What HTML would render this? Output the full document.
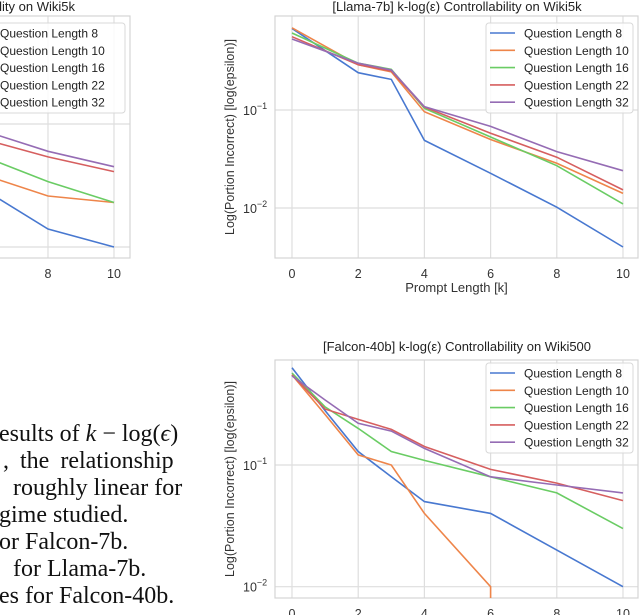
<!DOCTYPE html>
<html><head><meta charset="utf-8">
<style>
html,body{margin:0;padding:0;background:#fff;}
body{width:640px;height:615px;overflow:hidden;position:relative;font-family:"Liberation Sans",sans-serif;}
svg{position:absolute;left:0;top:0;}
.para{position:absolute;font-family:"Liberation Serif",serif;font-size:24px;color:#111;white-space:nowrap;line-height:24px;height:24px;overflow:visible;}
</style></head>
<body>
<svg id="chart" width="640" height="615"></svg>
<div class="para" style="left:-1px;top:422px">esults of <i>k</i> − log(<i>ϵ</i>)</div>
<div class="para" style="left:3px;top:449px;word-spacing:5px">, the relationship</div>
<div class="para" style="left:13px;top:476px">roughly linear for</div>
<div class="para" style="left:-1px;top:503px">gime studied.</div>
<div class="para" style="left:-1px;top:530px">or Falcon-7b.</div>
<div class="para" style="left:13px;top:557px">for Llama-7b.</div>
<div class="para" style="left:-1px;top:584px">es for Falcon-40b.</div>
<script>
const seriesNames = ["Question Length 8","Question Length 10","Question Length 16","Question Length 22","Question Length 32"];
const seriesColors = ["#4878d0","#ee854a","#6acc64","#d65f5f","#956cb4"];
const xTicks = [0,2,4,6,8,10];

// Left (Falcon-7b, partially visible)
const falcon7X = [6,8,10];
const falcon7Q8  = [0.030,0.014,0.010];
const falcon7Q10 = [0.039,0.026,0.023];
const falcon7Q16 = [0.055,0.034,0.023];
const falcon7Q22 = [0.076,0.054,0.041];
const falcon7Q32 = [0.089,0.060,0.045];

// Llama-7b
const llamaX = [0,2,3,4,6,8,10];
const llamaQ8  = [0.68,0.24,0.205,0.049,0.0226,0.0102,0.0040];
const llamaQ10 = [0.69,0.29,0.245,0.096,0.050,0.0286,0.0141];
const llamaQ16 = [0.61,0.30,0.26,0.104,0.053,0.027,0.011];
const llamaQ22 = [0.56,0.29,0.25,0.107,0.058,0.033,0.0153];
const llamaQ32 = [0.53,0.30,0.256,0.108,0.068,0.0376,0.024];

// Falcon-40b
const falcon40X = [0,1,2,3,4,6,8,10];
const falcon40Q8  = [0.63,0.28,0.129,0.080,0.050,0.040,0.020,0.010];
const falcon40Q10 = [0.55,0.26,0.121,0.100,0.040,0.010,0,0];
const falcon40Q16 = [0.57,0.30,0.20,0.129,0.109,0.080,0.059,0.030];
const falcon40Q22 = [0.55,0.288,0.237,0.196,0.142,0.092,0.071,0.051];
const falcon40Q32 = [0.54,0.342,0.22,0.19,0.137,0.080,0.0685,0.059];

const NS="http://www.w3.org/2000/svg";
const svg=document.getElementById('chart');
function mk(tag,attrs,parent){const e=document.createElementNS(NS,tag);for(const k in attrs)e.setAttribute(k,attrs[k]);(parent||svg).appendChild(e);return e;}

function drawChart(cfg){
  const g=mk('g',{});
  
  
  const xs=v=>cfg.x0+v*cfg.xu;
  const ys=v=>cfg.yRef-(Math.log10(v)+1)*cfg.dec;
  const cid='clip-'+cfg.name;
  const defs=mk('defs',{},g);
  const cp=mk('clipPath',{id:cid},defs);
  mk('rect',{x:cfg.L,y:cfg.T,width:cfg.R-cfg.L,height:cfg.B-cfg.T},cp);
  xTicks.forEach(t=>{
    const l=mk('line',{x1:xs(t),x2:xs(t),y1:cfg.T,y2:cfg.B,stroke:'#dedede','stroke-width':1.2},g);
    
    
    if(xs(t)>0){
      const tx=mk('text',{x:xs(t),y:cfg.B+20,'text-anchor':'middle','font-size':12.5,fill:'#333'},g);
      tx.textContent=t;
      
      
    }
  });
  [-1,-2].forEach(p=>{
    const y=ys(Math.pow(10,p));
    const l=mk('line',{x1:cfg.L,x2:cfg.R,y1:y,y2:y,stroke:'#dedede','stroke-width':1.2},g);
    
    
    if(cfg.yLabels){
      const tx=mk('text',{x:cfg.L-32,y:y+5,'font-size':12.5,fill:'#333'},g);
      tx.textContent='10';
      const s=mk('tspan',{dy:-6,'font-size':9},tx);s.textContent='−'+(-p);
      
      
    }
  });
  const fr=mk('rect',{x:cfg.L,y:cfg.T,width:cfg.R-cfg.L,height:cfg.B-cfg.T,fill:'none',stroke:'#d4d4d4','stroke-width':1.2},g);
  
  
  cfg.series.forEach((vals,i)=>{
    const pts=[];
    let prevX=null;
    vals.forEach((v,j)=>{
      const x=xs(cfg.xv[j]);
      if(v<=0){
        if(prevX!==null) pts.push(prevX.toFixed(1)+','+(cfg.B+2));
        prevX=null; return;
      }
      pts.push(x.toFixed(1)+','+ys(v).toFixed(1));
      prevX=x;
    });
    const pl=mk('polyline',{points:pts.join(' '),fill:'none',stroke:seriesColors[i],'stroke-width':1.6,'clip-path':'url(#'+cid+')'},g);
    
    
  });
  const tt=mk('text',{x:cfg.titleX,y:cfg.titleY,'text-anchor':cfg.titleAnchor,'font-size':13,fill:'#222'},g);
  tt.textContent=cfg.title;
  
  
  if(cfg.xLabel){
    const xl=mk('text',{x:(cfg.L+cfg.R)/2,y:cfg.B+34,'text-anchor':'middle','font-size':13,fill:'#333'},g);
    xl.textContent=cfg.xLabel;
    
    
  }
  if(cfg.yLabels){
    const cy=(cfg.T+cfg.B)/2;
    const yl=mk('text',{x:0,y:0,transform:'translate(234,'+cy+') rotate(-90)','text-anchor':'middle','font-size':12.5,fill:'#333'},g);
    yl.textContent='Log(Portion Incorrect) [log(epsilon)]';
    
    
  }
  const lg=mk('g',{},g);
  
  
  mk('rect',{x:cfg.lgX,y:cfg.lgY,width:cfg.lgW,height:90,rx:3,fill:'#fff','fill-opacity':0.85,stroke:'#d8d8d8'},lg);
  seriesNames.forEach((n,i)=>{
    const y=cfg.lgY+10+i*17.3;
    mk('line',{x1:cfg.lgX+4,x2:cfg.lgX+29,y1:y,y2:y,stroke:seriesColors[i],'stroke-width':1.6},lg);
    const t=mk('text',{x:cfg.lgX+38,y:y+4.5,'font-size':12,fill:'#222'},lg);
    t.textContent=n;
    
    
  });
}

drawChart({name:'falcon7b-chart',L:-300,R:130,T:16,B:258,x0:-216,xu:33,yRef:124,dec:123,
  xv:falcon7X,series:[falcon7Q8,falcon7Q10,falcon7Q16,falcon7Q22,falcon7Q32],
  title:'[Falcon-7b] k-log(ε) Controllability on Wiki5k',titleX:75,titleY:11,titleAnchor:'end',
  lgX:-38,lgY:23,lgW:163,yLabels:false,xLabel:null});
drawChart({name:'llama7b-chart',L:275,R:638,T:16,B:258,x0:292,xu:33.1,yRef:110,dec:98,
  xv:llamaX,series:[llamaQ8,llamaQ10,llamaQ16,llamaQ22,llamaQ32],
  title:'[Llama-7b] k-log(ε) Controllability on Wiki5k',titleX:457,titleY:11,titleAnchor:'middle',
  lgX:486,lgY:23,lgW:147,yLabels:true,xLabel:'Prompt Length [k]'});
drawChart({name:'falcon40b-chart',L:275,R:638,T:360,B:598,x0:292,xu:33.1,yRef:465,dec:121.7,
  xv:falcon40X,series:[falcon40Q8,falcon40Q10,falcon40Q16,falcon40Q22,falcon40Q32],
  title:'[Falcon-40b] k-log(ε) Controllability on Wiki500',titleX:457,titleY:351,titleAnchor:'middle',
  lgX:486,lgY:363,lgW:147,yLabels:true,xLabel:null});
</script>
</body></html>
